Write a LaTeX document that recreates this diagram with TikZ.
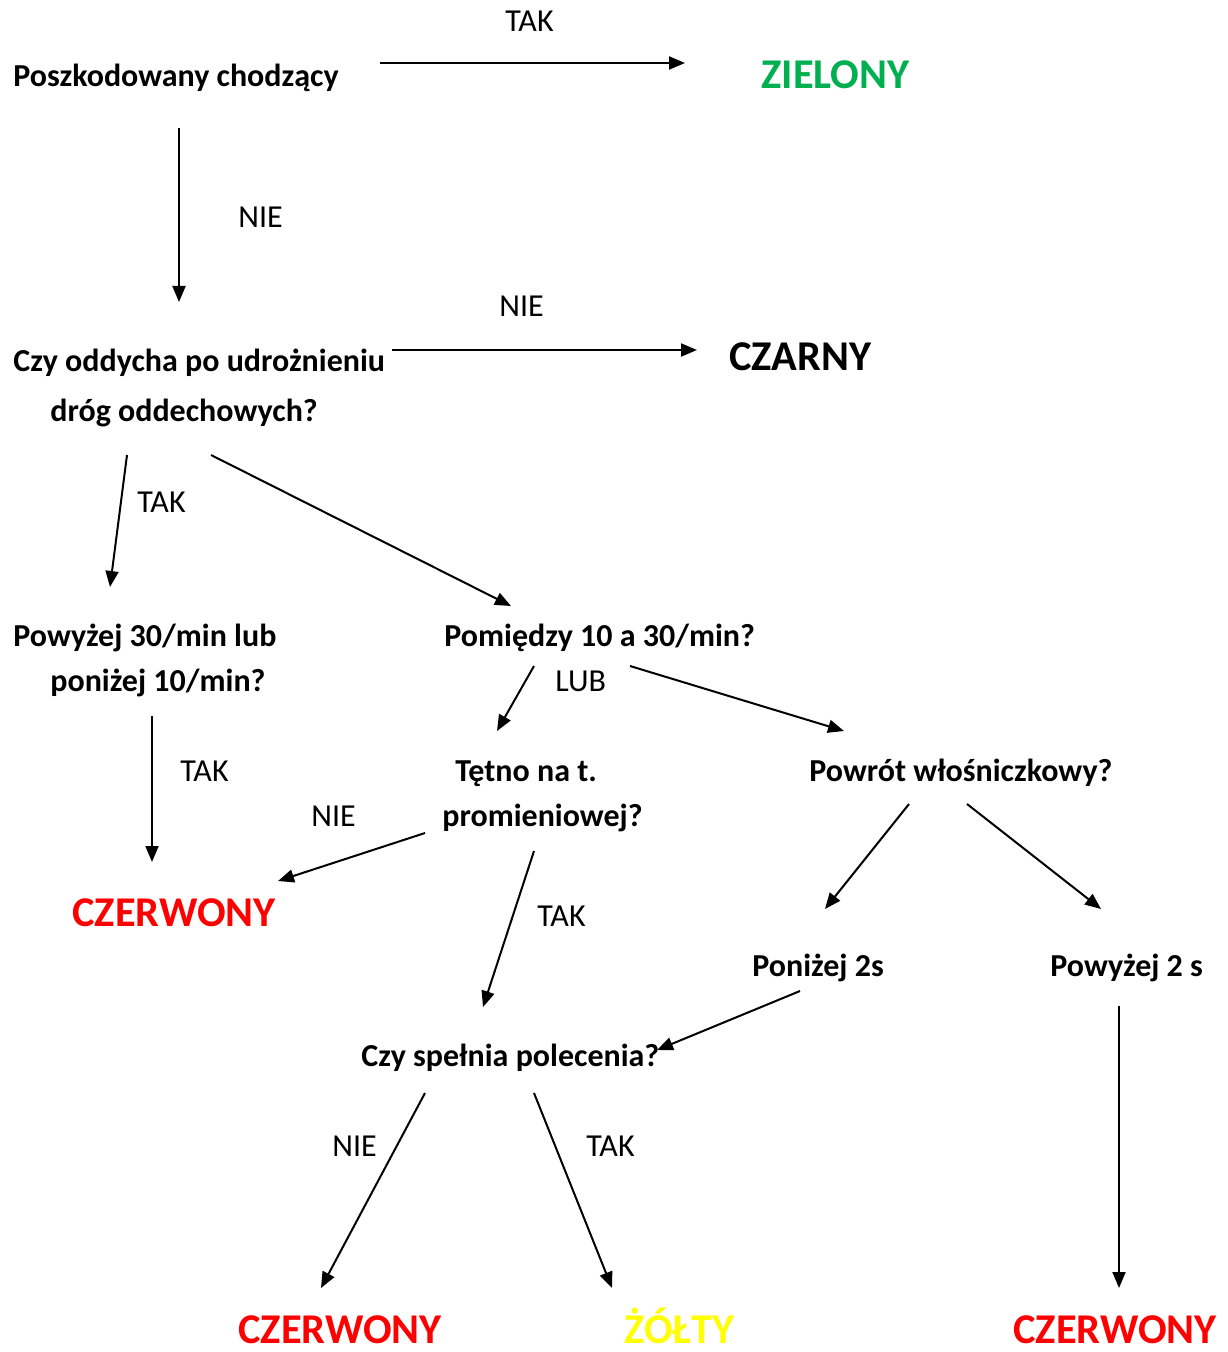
\documentclass[tikz,border=0pt]{standalone}
\usepackage{fontspec}
\setmainfont{Carlito}
\usepackage{xcolor}
\usetikzlibrary{arrows.meta}
\definecolor{wordgreen}{RGB}{0,176,80}
\definecolor{wordred}{RGB}{255,0,0}
\definecolor{wordyellow}{RGB}{255,255,0}

\begin{document}
\begin{tikzpicture}[x=0.5pt, y=-0.5pt,
	question/.style={inner sep=0, anchor=base west, font=\fontsize{16}{22.5}\selectfont\bfseries, align=left},
	answer/.style={inner sep=0, anchor=base west, font=\fontsize{16}{19}\selectfont},
	verdict/.style={inner sep=0, anchor=base west, font=\fontsize{21.2}{25}\selectfont\bfseries},
	link/.style={line width=1pt, -{Triangle[length=8pt, width=6.5pt]}}]

	\useasboundingbox (0,0) rectangle (1227,1352);

	% questions (base = last line)
	\node[question] (walk) at (13,87) {Poszkodowany chodzący};
	\node[question, font=\fontsize{16}{25}\selectfont\bfseries] (breath) at (13,422) {Czy oddycha po udrożnieniu\\\hspace*{18.5pt}dróg oddechowych?};
	\node[question] (rateout) at (13,691) {Powyżej 30/min lub\\\hspace*{18.5pt}poniżej 10/min?};
	\node[question] (ratein) at (444,646) {Pomiędzy 10 a 30/min?};
	\node[question] (pulse) at (442,826) {\hspace*{6.5pt}Tętno na t.\\promieniowej?};
	\node[question] (refill) at (809,781) {Powrót włośniczkowy?};
	\node[question] (below) at (752,976) {Poniżej 2s};
	\node[question] (above) at (1050,976) {Powyżej 2 s};
	\node[question] (obey) at (361,1066) {Czy spełnia polecenia?};

	% verdicts
	\node[verdict, text=wordgreen] (green) at (761,89) {ZIELONY};
	\node[verdict] (black) at (729,371) {CZARNY};
	\node[verdict, text=wordred] (redA) at (72,926) {CZERWONY};
	\node[verdict, text=wordred] (redB) at (238,1343) {CZERWONY};
	\node[verdict, text=wordyellow] (yellow) at (624,1343) {ŻÓŁTY};
	\node[verdict, text=wordred] (redC) at (1013,1343) {CZERWONY};

	% answers
	\node[answer] (yesA) at (505,32) {TAK};
	\node[answer] (noA) at (238,228) {NIE};
	\node[answer] (noB) at (499,317) {NIE};
	\node[answer] (yesB) at (137,512) {TAK};
	\node[answer] (orA) at (555,691) {LUB};
	\node[answer] (yesC) at (180,781) {TAK};
	\node[answer] (noC) at (311,826) {NIE};
	\node[answer] (yesD) at (537,926) {TAK};
	\node[answer] (noD) at (332,1156) {NIE};
	\node[answer] (yesE) at (586,1156) {TAK};

	% arrow ends
	\coordinate (walkR) at (380,63);    \coordinate (greenL) at (685,63);
	\coordinate (walkD) at (179,128);   \coordinate (breathU) at (179,302);
	\coordinate (breathR) at (392,350); \coordinate (blackL) at (697,350);
	\coordinate (breathD) at (127,455); \coordinate (rateoutU) at (110,587);
	\coordinate (breathE) at (211,455); \coordinate (rateinU) at (511,606);
	\coordinate (ratoutD) at (152,716); \coordinate (redAU) at (152,862);
	\coordinate (rateinL) at (534,666); \coordinate (pulseU) at (497,731);
	\coordinate (rateinR) at (630,666); \coordinate (refillU) at (844,731);
	\coordinate (pulseL) at (425,833);  \coordinate (redAR) at (278,881);
	\coordinate (pulseD) at (534,851);  \coordinate (obeyU) at (483,1007);
	\coordinate (refillL) at (909,804); \coordinate (belowU) at (825,909);
	\coordinate (refillR) at (967,804); \coordinate (aboveU) at (1101,909);
	\coordinate (belowD) at (800,991);  \coordinate (obeyR) at (657,1050);
	\coordinate (aboveD) at (1119,1006); \coordinate (redCU) at (1119,1288);
	\coordinate (obeyL) at (425,1093);  \coordinate (redBU) at (321,1288);
	\coordinate (obeyD) at (534,1093);  \coordinate (yellowU) at (612,1288);

	\draw[link] (walkR) -- (greenL);
	\draw[link] (walkD) -- (breathU);
	\draw[link] (breathR) -- (blackL);
	\draw[link] (breathD) -- (rateoutU);
	\draw[link] (breathE) -- (rateinU);
	\draw[link] (ratoutD) -- (redAU);
	\draw[link] (rateinL) -- (pulseU);
	\draw[link] (rateinR) -- (refillU);
	\draw[link] (pulseL) -- (redAR);
	\draw[link] (pulseD) -- (obeyU);
	\draw[link] (refillL) -- (belowU);
	\draw[link] (refillR) -- (aboveU);
	\draw[link] (belowD) -- (obeyR);
	\draw[link] (aboveD) -- (redCU);
	\draw[link] (obeyL) -- (redBU);
	\draw[link] (obeyD) -- (yellowU);

\end{tikzpicture}
\end{document}
